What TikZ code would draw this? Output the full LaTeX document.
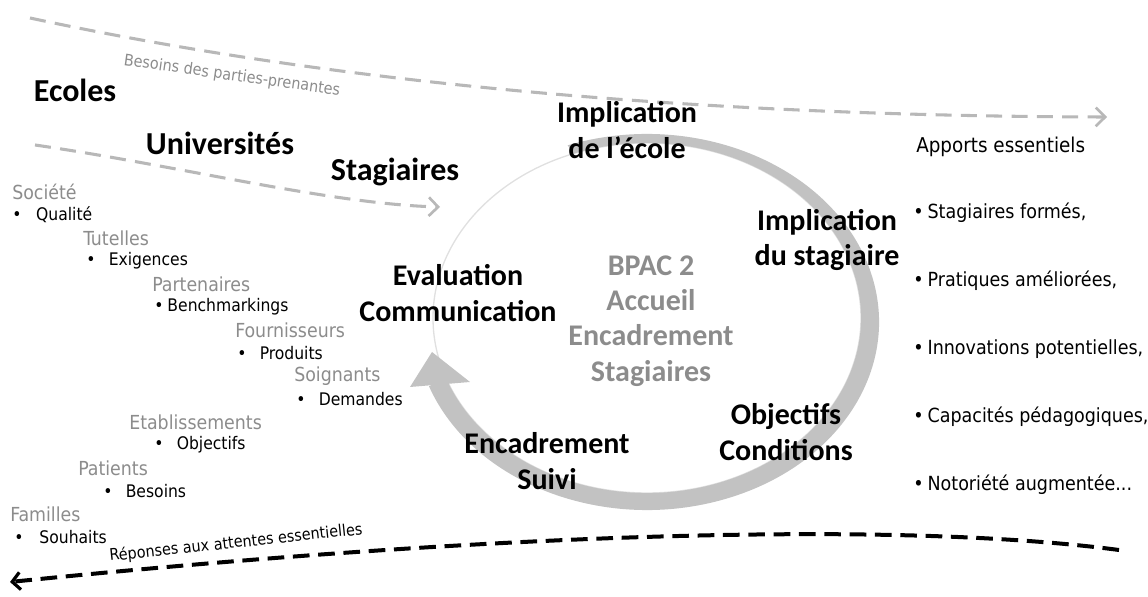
\documentclass[tikz,border=0pt]{standalone}
\usepackage{fontspec}
\setmainfont{Carlito}
\newfontfamily\listfont{DejaVu Sans Condensed}
\usetikzlibrary{arrows.meta}
\usetikzlibrary{positioning}
\usetikzlibrary{calc}
\definecolor{ringgrey}{rgb}{0.76,0.76,0.76}
\definecolor{flowgrey}{rgb}{0.72,0.72,0.72}
\definecolor{headgrey}{rgb}{0.55,0.55,0.55}
\tikzset{
	bigbold/.style={font=\bfseries\fontsize{22.5}{26.5}\selectfont, align=center, inner sep=0pt},
	acteur/.style={font=\bfseries\fontsize{24}{28}\selectfont, inner sep=0pt},
	centretext/.style={bigbold, text=headgrey},
	partie/.style={font=\listfont\fontsize{14.5}{16}\selectfont, text=headgrey, anchor=west, inner sep=0pt},
	attente/.style={font=\listfont\fontsize{13}{15}\selectfont, anchor=west, inner sep=0pt},
	apport/.style={font=\listfont\fontsize{14.6}{16}\selectfont, anchor=west, inner sep=0pt},
	flowlabel/.style={font=\listfont\fontsize{12}{14}\selectfont, inner sep=0pt},
	greyflow/.style={draw=flowgrey, line width=2.3pt, dash pattern=on 12pt off 7pt, -{Straight Barb[length=7pt,width=14pt,line width=2pt]}},
	blackflow/.style={draw=black, line width=3pt, dash pattern=on 12.5pt off 6.5pt, -{Straight Barb[length=6pt,width=13pt,line width=2.4pt]}}
}
\newcommand{\puce}[1]{\textbullet\hspace{#1}}
\begin{document}
\begin{tikzpicture}[x=0.75pt, y=0.75pt]
	\useasboundingbox (0,0) rectangle (1148,596);
	
	% ring
	\draw[black!12, line width=1pt] (647,278) ellipse[x radius=214, y radius=175];
	\coordinate (ringInEnd) at ($(647,278)+(-160:214 and 175)$);
	\fill[ringgrey] (647,274) ++(110:232 and 188) arc[start angle=110, end angle=-160, x radius=232, y radius=188]
		-- (ringInEnd) arc[start angle=-160, end angle=110, x radius=214, y radius=175] -- cycle;
	\fill[ringgrey] (410,209) -- (432,244) -- (470,214) -- cycle;
	
	% flows
	\coordinate (besoinsStart) at (30,578);
	\coordinate (besoinsEnd) at (1107,479);
	\coordinate (stagStart) at (35,451);
	\coordinate (stagEnd) at (440,389);
	\coordinate (reponsesStart) at (1119,46);
	\coordinate (reponsesEnd) at (10,14);
	\draw[greyflow] (besoinsStart) .. controls (300,520) and (650,480) .. (besoinsEnd);
	\draw[greyflow] (stagStart) .. controls (180,430) and (330,392) .. (stagEnd);
	\draw[blackflow] (reponsesStart) .. controls (900,75) and (500,64) .. (reponsesEnd);
	\node[flowlabel, text=headgrey, rotate=-8] (besoinsLbl) at (232,520) {Besoins des parties-prenantes};
	\node[flowlabel, rotate=6] (reponsesLbl) at (236,53) {Réponses aux attentes essentielles};
	
	% stakeholders
	\node[acteur] (ecoles) at (75,506) {Ecoles};
	\node[acteur] (universites) at (220,453) {Universités};
	\node[acteur] (stagiaires) at (395,424) {Stagiaires};
	
	% cycle
	\node[bigbold] (implEcole) at (627,466) {Implication\\de l'école};
	\node[bigbold] (implStag) at (827,356) {Implication\\du stagiaire};
	\node[bigbold] (objCond) at (786,164) {Objectifs\\Conditions};
	\node[bigbold] (encSuivi) at (547,135) {Encadrement\\Suivi};
	\node[bigbold] (evalComm) at (458,303) {Evaluation\\Communication};
	\node[centretext] (bpac) at (651,275) {BPAC 2\\Accueil\\Encadrement\\Stagiaires};
	
	% attentes (left)
	\node[partie] (societe) at (12,404) {Société};
	\node[attente] (qualite) at (12,381) {\puce{11pt}Qualité};
	\node[partie] (tutelles) at (83,358) {Tutelles};
	\node[attente] (exigences) at (86,335) {\puce{10pt}Exigences};
	\node[partie] (partenaires) at (152,312) {Partenaires};
	\node[attente] (bench) at (154,289) {\puce{3pt}Benchmarkings};
	\node[partie] (fournisseurs) at (235,266) {Fournisseurs};
	\node[attente] (produits) at (237,243) {\puce{10pt}Produits};
	\node[partie] (soignants) at (294,220) {Soignants};
	\node[attente] (demandes) at (296,197) {\puce{10pt}Demandes};
	\node[partie] (etablissements) at (129,174) {Etablissements};
	\node[attente] (objectifs) at (154,151) {\puce{10pt}Objectifs};
	\node[partie] (patients) at (78,128) {Patients};
	\node[attente] (besoins) at (103,105) {\puce{10pt}Besoins};
	\node[partie] (familles) at (10,82) {Familles};
	\node[attente] (souhaits) at (14,59) {\puce{12pt}Souhaits};
	
	% apports (right)
	\node[apport, font=\listfont\fontsize{15.3}{17}\selectfont] (apports) at (916,449) {Apports essentiels};
	\node[apport] (formes) at (913,383) {\puce{3pt}Stagiaires formés,};
	\node[apport] (pratiques) at (913,315) {\puce{3pt}Pratiques améliorées,};
	\node[apport] (innovations) at (913,247) {\puce{3pt}Innovations potentielles,};
	\node[apport] (capacites) at (913,179) {\puce{3pt}Capacités pédagogiques,};
	\node[apport] (notoriete) at (913,111) {\puce{3pt}Notoriété augmentée...};
	
\end{tikzpicture}
\end{document}
